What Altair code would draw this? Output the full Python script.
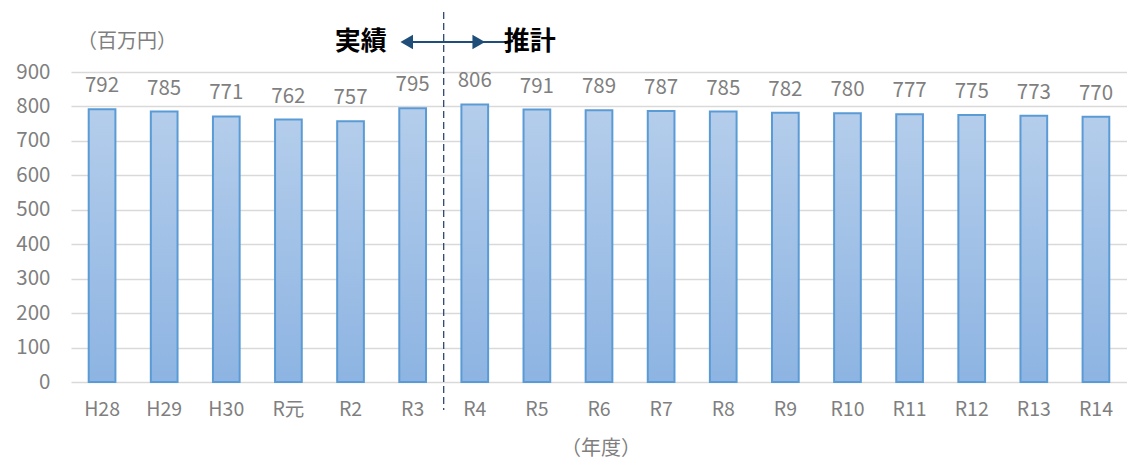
import altair as alt
import pandas as pd

years = ["H28", "H29", "H30", "R元", "R2", "R3", "R4", "R5", "R6",
         "R7", "R8", "R9", "R10", "R11", "R12", "R13", "R14"]
amounts = [792, 785, 771, 762, 757, 795, 806, 791, 789,
           787, 785, 782, 780, 777, 775, 773, 770]
y_ticks = [0, 100, 200, 300, 400, 500, 600, 700, 800, 900]

df = pd.DataFrame({"year": years, "amount": amounts})

FONT = "Noto Sans CJK JP"
GRAY = "#7f7f7f"
NAVY = "#1f4e79"

x_enc = alt.X("year:N", sort=years, title=None,
              scale=alt.Scale(paddingInner=0, paddingOuter=0),
              axis=alt.Axis(labelAngle=0, domain=False, ticks=False, grid=False,
                            labelFont=FONT, labelFontSize=19.5, labelColor=GRAY,
                            labelPadding=18))
y_enc = alt.Y("amount:Q", title=None,
              scale=alt.Scale(domain=[0, 900], nice=False),
              axis=alt.Axis(values=y_ticks, domain=False, ticks=False,
                            labelOverlap=False,
                            gridColor="#d9d9d9", gridWidth=1.5,
                            labelFont=FONT, labelFontSize=20.5, labelColor=GRAY,
                            labelPadding=21))

bars = alt.Chart(df).mark_bar(
    width=alt.RelativeBandSize(0.43),
    stroke="#5b9bd5", strokeWidth=2,
    color=alt.Gradient(gradient="linear", x1=0, x2=0, y1=0, y2=1,
                       stops=[alt.GradientStop(color="#b4cdeb", offset=0),
                              alt.GradientStop(color="#8db4e2", offset=1)]),
).encode(x=x_enc, y=y_enc)

labels = alt.Chart(df).mark_text(
    font=FONT, fontSize=20.5, color=GRAY, baseline="middle", dy=-23
).encode(x=x_enc, y=y_enc, text="amount:Q")

# boundary between actual results (left) and projections (right)
split = pd.DataFrame({"year": ["R4"]})
x_split = alt.X("year:N", sort=years, bandPosition=0)
ARROW_Y = alt.value(-30)

divider = alt.Chart(split).mark_rule(
    color="#1f3864", strokeWidth=1.2, strokeDash=[7, 4]
).encode(x=x_split, y=alt.value(-60), y2=alt.value(338))

shaft = alt.Chart(split).mark_rule(
    color=NAVY, strokeWidth=1.8, xOffset=-36, x2Offset=34
).encode(x=x_split, x2=alt.X2("year"), y=ARROW_Y)
left_head = alt.Chart(split).mark_point(
    shape="triangle-left", filled=True, color=NAVY, size=210, opacity=1, xOffset=-37
).encode(x=x_split, y=ARROW_Y)
right_head = alt.Chart(split).mark_point(
    shape="triangle-right", filled=True, color=NAVY, size=210, opacity=1, xOffset=35
).encode(x=x_split, y=ARROW_Y)

tags = pd.DataFrame({"year": ["R4", "R4"], "tag": ["実績", "推計"]})
tag_left = alt.Chart(tags.iloc[[0]]).mark_text(
    font=FONT, fontSize=26, fontWeight="bold", color="#000000", xOffset=-83
).encode(x=x_split, y=ARROW_Y, text="tag:N")
tag_right = alt.Chart(tags.iloc[[1]]).mark_text(
    font=FONT, fontSize=26, fontWeight="bold", color="#000000", xOffset=86
).encode(x=x_split, y=ARROW_Y, text="tag:N")

unit = alt.Chart(pd.DataFrame({"t": ["（百万円）"]})).mark_text(
    font=FONT, fontSize=20, color=GRAY, align="left"
).encode(x=alt.value(6), y=alt.value(-30), text="t:N")
xlab = alt.Chart(pd.DataFrame({"t": ["（年度）"]})).mark_text(
    font=FONT, fontSize=20, color=GRAY, align="center"
).encode(x=alt.value(530), y=alt.value(377), text="t:N")

chart = alt.layer(
    bars, labels, divider, shaft, left_head, right_head,
    tag_left, tag_right, unit, xlab
).properties(
    width=1056, height=310, background="white",
    autosize=alt.AutoSizeParams(type="none"),
    padding={"left": 71, "top": 72, "right": 0, "bottom": 80},
).configure_view(stroke=None)

chart.save("out.html", embed_options={"renderer": "svg", "actions": False})
